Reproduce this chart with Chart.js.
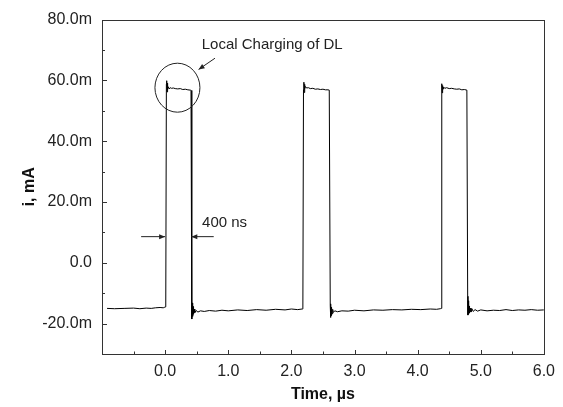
<!DOCTYPE html>
<html>
<head>
<meta charset="utf-8">
<script src="https://cdn.jsdelivr.net/npm/chart.js@4/dist/chart.umd.min.js"></script>
<style>
  html, body { margin: 0; padding: 0; background: #fff; }
  #wrap { width: 563px; height: 407px; }
</style>
</head>
<body>
<div id="wrap"><canvas id="c" width="563" height="407"></canvas></div>
<script>
// ---- data (time in µs, current in mA) ----
const timeUs = [
  -0.92, -0.80, -0.65, -0.50, -0.40, -0.30, -0.22, -0.15, -0.08, -0.03, -0.005,
  0.010, 0.020, 0.025, 0.030, 0.036, 0.042, 0.050, 0.065, 0.080, 0.100, 0.130, 0.160, 0.200, 0.240, 0.280, 0.320, 0.360, 0.400, 0.410,
  0.420, 0.425, 0.430, 0.436, 0.442, 0.450, 0.460, 0.470, 0.490, 0.520, 0.560, 0.620, 0.700, 0.800, 0.900, 1.000, 1.150, 1.300, 1.450, 1.600, 1.750, 1.900, 2.000, 2.100, 2.170,
  2.182, 2.192, 2.198, 2.203, 2.208, 2.214, 2.222, 2.240, 2.270, 2.300, 2.340, 2.380, 2.420, 2.460, 2.500, 2.540, 2.580, 2.600,
  2.616, 2.620, 2.625, 2.630, 2.636, 2.644, 2.654, 2.665, 2.690, 2.730, 2.800, 2.900, 3.000, 3.150, 3.300, 3.450, 3.600, 3.750, 3.900, 4.050, 4.200, 4.300, 4.360,
  4.373, 4.380, 4.385, 4.390, 4.396, 4.402, 4.412, 4.430, 4.460, 4.500, 4.540, 4.580, 4.620, 4.660, 4.700, 4.740, 4.780,
  4.793, 4.797, 4.802, 4.808, 4.815, 4.822, 4.832, 4.845, 4.860, 4.880, 4.910, 4.950, 5.000, 5.100, 5.200, 5.300, 5.400, 5.500, 5.600, 5.700, 5.800, 5.900, 6.000
];
const currentMA = [
  -15.0, -15.1, -15.0, -14.9, -15.1, -14.9, -15.0, -14.8, -14.7, -14.8, -14.6,
  -14.5, 58.8, 59.9, 56.2, 59.1, 57.0, 57.9, 57.2, 57.6, 57.4, 57.5, 57.3, 57.2, 57.3, 57.0, 57.1, 56.9, 56.8, 56.7,
  -14.0, -18.5, -13.2, -17.6, -14.4, -16.9, -15.2, -16.4, -15.7, -16.2, -15.8, -16.0, -15.7, -15.9, -15.6, -15.8, -15.5, -15.7, -15.4, -15.6, -15.3, -15.5, -15.2, -15.4, -15.2,
  -15.0, 57.0, 59.4, 56.0, 58.7, 57.3, 58.0, 57.5, 57.6, 57.3, 57.4, 57.1, 57.2, 57.0, 57.1, 56.9, 56.9, 56.8,
  -14.2, -18.0, -13.5, -17.4, -14.6, -16.8, -15.3, -16.3, -15.8, -16.1, -15.8, -15.9, -15.6, -15.8, -15.5, -15.6, -15.4, -15.5, -15.3, -15.4, -15.2, -15.3, -15.1,
  -15.0, 58.0, 58.9, 55.9, 58.3, 57.2, 57.8, 57.4, 57.6, 57.3, 57.4, 57.2, 57.1, 57.2, 56.9, 57.0, 56.8,
  -11.0, -17.2, -12.5, -16.8, -14.2, -16.5, -14.9, -16.2, -15.1, -16.0, -15.4, -15.9, -15.5, -15.8, -15.6, -15.7, -15.4, -15.7, -15.5, -15.6, -15.4, -15.6, -15.5
];
const xTickValues = [0, 1, 2, 3, 4, 5, 6];
const yTickValues = [-20, 0, 20, 40, 60, 80];
const xTitle = 'Time, \u00B5s';
const yTitle = 'i, mA';
const calloutText = 'Local Charging of DL';
const widthText = '400 ns';

const FONT = "Arial, 'Liberation Sans', sans-serif";
const points = timeUs.map((t, i) => ({ x: t, y: currentMA[i] }));

function yLabel(v) {
  if (v === 0) return '0.0';
  return v.toFixed(1) + 'm';
}

function arrow(ctx, x1, y1, x2, y2) {
  ctx.beginPath();
  ctx.moveTo(x1, y1);
  ctx.lineTo(x2, y2);
  ctx.stroke();
  const a = Math.atan2(y2 - y1, x2 - x1);
  const L = 6, W = 2.5;
  ctx.beginPath();
  ctx.moveTo(x2, y2);
  ctx.lineTo(x2 - L * Math.cos(a) + W * Math.sin(a), y2 - L * Math.sin(a) - W * Math.cos(a));
  ctx.lineTo(x2 - L * Math.cos(a) - W * Math.sin(a), y2 - L * Math.sin(a) + W * Math.cos(a));
  ctx.closePath();
  ctx.fill();
}

const framePlugin = {
  id: 'frame',
  afterDraw(chart) {
    const { ctx, chartArea: a, scales: { x, y } } = chart;
    ctx.save();
    ctx.strokeStyle = '#333';
    ctx.fillStyle = '#111';
    ctx.lineWidth = 1;
    ctx.strokeRect(Math.round(a.left) + 0.5, Math.round(a.top) + 0.5,
                   Math.round(a.right - a.left), Math.round(a.bottom - a.top));
    ctx.beginPath();
    for (let v = -1; v <= 6.001; v += 0.5) {
      const px = Math.round(x.getPixelForValue(v)) + 0.5;
      const major = Math.abs(v - Math.round(v)) < 1e-6;
      const len = major ? 4 : 2.5;
      ctx.moveTo(px, a.bottom);
      ctx.lineTo(px, a.bottom - len);
    }
    for (let v = -30; v <= 80.001; v += 10) {
      const py = Math.round(y.getPixelForValue(v)) + 0.5;
      const major = (v % 20 === 0);
      const len = major ? 5 : 3;
      ctx.moveTo(a.left, py);
      ctx.lineTo(a.left + len, py);
    }
    ctx.stroke();

    ctx.strokeStyle = '#222';
    ctx.fillStyle = '#222';
    ctx.lineWidth = 1;
    const cx = x.getPixelForValue(0.195), cy = y.getPixelForValue(57.6);
    ctx.beginPath();
    ctx.ellipse(cx, cy, 22.5, 24.5, 0, 0, Math.PI * 2);
    ctx.stroke();
    arrow(ctx, x.getPixelForValue(0.79), y.getPixelForValue(67.3),
               x.getPixelForValue(0.53), y.getPixelForValue(63.6));
    ctx.font = '15px ' + FONT;
    ctx.fillStyle = '#222';
    ctx.textBaseline = 'middle';
    ctx.textAlign = 'left';
    ctx.fillText(calloutText, x.getPixelForValue(0.58), y.getPixelForValue(71.6));
    const ay = y.getPixelForValue(8.6);
    arrow(ctx, x.getPixelForValue(-0.38), ay, x.getPixelForValue(0.0), ay);
    arrow(ctx, x.getPixelForValue(0.77), ay, x.getPixelForValue(0.415), ay);
    ctx.fillText(widthText, x.getPixelForValue(0.585), y.getPixelForValue(13.3));
    ctx.restore();
  }
};

new Chart(document.getElementById('c'), {
  type: 'line',
  data: {
    datasets: [{
      data: points,
      borderColor: '#000',
      borderWidth: 1,
      pointRadius: 0,
      tension: 0,
      fill: false
    }]
  },
  options: {
    responsive: false,
    animation: false,
    devicePixelRatio: 1,
    layout: { autoPadding: false, padding: { left: 0, top: 14, right: 16, bottom: 0 } },
    plugins: { legend: { display: false }, tooltip: { enabled: false } },
    scales: {
      x: {
        type: 'linear',
        position: 'bottom',
        min: -1,
        max: 6,
        afterBuildTicks(s) { s.ticks = xTickValues.map(v => ({ value: v })); },
        afterFit(s) { s.height = 53; },
        grid: { display: false, drawTicks: false },
        border: { display: false },
        ticks: {
          padding: 8,
          color: '#222',
          font: { family: FONT, size: 16 },
          maxRotation: 0,
          autoSkip: false,
          callback: v => Number(v).toFixed(1)
        },
        title: {
          display: true,
          text: xTitle,
          color: '#111',
          font: { family: FONT, size: 16, weight: 'bold' },
          padding: { top: 0, bottom: 3 }
        }
      },
      y: {
        type: 'linear',
        position: 'left',
        min: -30,
        max: 80,
        afterBuildTicks(s) { s.ticks = yTickValues.map(v => ({ value: v })); },
        afterFit(s) { s.width = 102; },
        grid: { display: false, drawTicks: false },
        border: { display: false },
        ticks: {
          padding: 10,
          color: '#222',
          font: { family: FONT, size: 16 },
          autoSkip: false,
          callback: v => yLabel(v)
        },
        title: {
          display: true,
          text: yTitle,
          color: '#111',
          font: { family: FONT, size: 16, weight: 'bold' },
          padding: { top: 20, bottom: 0 }
        }
      }
    }
  },
  plugins: [framePlugin]
});
</script>
</body>
</html>
